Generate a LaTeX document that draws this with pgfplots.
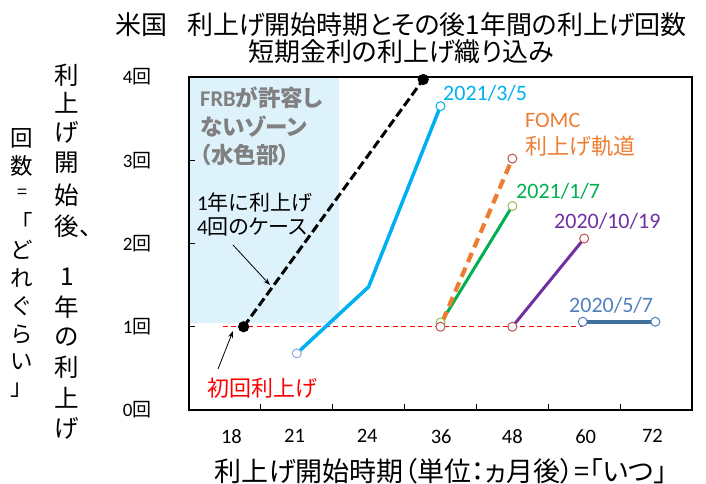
\documentclass[border=0pt]{standalone}
\usepackage{pgfplots}
\pgfplotsset{compat=1.18}
\usetikzlibrary{arrows.meta}
\usepackage{fontspec}
\setmainfont{Carlito}
\newfontfamily\jp[RawFeature=+palt]{Noto Sans CJK JP}
\newfontfamily\jpn{Noto Sans CJK JP}
\newcommand\J[1]{{\jp #1}}
\newcommand\fs[1]{\fontsize{#1bp}{#1bp}\selectfont}
\definecolor{cLB}{HTML}{00B0F0}
\definecolor{cOr}{HTML}{ED7D31}
\definecolor{cGr}{HTML}{00B050}
\definecolor{cPu}{HTML}{7030A0}
\definecolor{cSt}{HTML}{41719C}
\definecolor{cStT}{HTML}{4F81BD}
\definecolor{cZone}{HTML}{DEF2FB}
\definecolor{cMRed}{HTML}{C0504D}
\definecolor{cOlive}{HTML}{9BBB59}
\definecolor{cPale}{HTML}{8FAADC}
\definecolor{cGray}{HTML}{808080}
\begin{document}
\begin{tikzpicture}
\useasboundingbox (-189bp,-74bp) rectangle (517bp,410bp);
\begin{axis}[
  scale only axis, width=503bp, height=333bp,
  at={(0,0)}, anchor=south west,
  xmin=-0.5, xmax=6.5, ymin=0, ymax=4,
  xtick={0.09,0.97,1.98,3.01,4.0,5.02,5.95}, xticklabels={18,21,24,36,48,60,72},
  minor xtick={0.5,1.5,2.5,3.5,4.5,5.5},
  major x tick style={draw=none},
  ytick={0,1,2,3,4},
  yticklabels={{0\J{回}},{1\J{回}},{2\J{回}},{3\J{回}},{4\J{回}}},
  tick pos=left, tick align=inside,
  major tick length=6.5bp, minor tick length=6.5bp,
  axis line style={line width=1.2bp, black},
  every tick/.style={line width=1bp, black},
  minor x tick style={line width=1bp, black},
  xticklabel style={font=\fs{20.5}, yshift=-16bp},
  yticklabel style={font=\fs{19}, xshift=-34bp},
  axis on top, clip=false,
]
\addplot[draw=none, fill=cZone] coordinates {(-0.5,1.045) (1.587,1.045) (1.587,4) (-0.5,4)} -- cycle;
\addplot[red, line width=1.4bp, dash pattern=on 5bp off 3.5bp] coordinates {(-0.03,1) (4.98,1)};
\addplot[cLB, line width=3.5bp] coordinates {(1,0.68) (2,1.48) (3,3.65)};
\addplot[cGr, line width=3bp] coordinates {(3,1.04) (4,2.45)};
\addplot[cOr, line width=4.2bp, dash pattern=on 10bp off 6bp] coordinates {(3.03,1.07) (4,3.02)};
\addplot[cPu, line width=3bp] coordinates {(4,1) (5,2.06)};
\addplot[cSt, line width=3.5bp] coordinates {(4.98,1.06) (5.99,1.06)};
\addplot[black, line width=3bp, dash pattern=on 9bp off 4bp, mark=*, mark size=4bp, mark options={solid}] coordinates {(0.26,1) (2.76,3.97)};
\addplot[only marks, mark=*, mark size=4.5bp, mark options={fill=white, draw=cPale, line width=1bp}] coordinates {(1,0.68)};
\addplot[only marks, mark=*, mark size=4.5bp, mark options={fill=white, draw=cLB, line width=1bp}] coordinates {(3,3.65)};
\addplot[only marks, mark=*, mark size=4.5bp, mark options={fill=white, draw=cOlive, line width=1bp}] coordinates {(3,1.05) (4,2.45)};
\addplot[only marks, mark=*, mark size=4.5bp, mark options={fill=white, draw=cMRed, line width=1bp}] coordinates {(3,1) (4,1) (4,3.02) (5,2.06)};
\addplot[only marks, mark=*, mark size=4.5bp, mark options={fill=white, draw=cStT, line width=1bp}] coordinates {(4.98,1.06) (5.99,1.06)};
\end{axis}
% arrows
\draw[-{Stealth[length=7bp,width=5bp]}, line width=0.8bp] (44bp,165bp) -- (81bp,125bp);
\draw[-{Stealth[length=7bp,width=5bp]}, line width=0.8bp] (29bp,41bp) -- (44bp,79bp);
% annotations
\begin{scope}[every node/.style={anchor=west, inner sep=0pt}]
\node[text=cLB, font=\fs{22}] at (254bp,317bp) {2021/3/5};
\node[text=cOr, font=\fs{22}] at (336bp,290bp) {FOMC};
\node[text=cOr, font=\fs{22}] at (336bp,264bp) {\J{利上げ軌道}};
\node[text=cGr, font=\fs{22}] at (327bp,219bp) {2021/1/7};
\node[text=cPu, font=\fs{22}] at (365bp,189bp) {2020/10/19};
\node[text=cStT, font=\fs{22}] at (380bp,105bp) {2020/5/7};
\node[text=red, font=\fs{22}] at (18bp,22bp) {\J{初回利上げ}};
\node[text=black, font=\fs{21}] at (8bp,208bp) {1\J{年に利上げ}};
\node[text=black, font=\fs{21}] at (8bp,183bp) {4\J{回のケース}};
\node[text=cGray, font=\fs{22.5}\bfseries] at (11bp,312bp) {FRB\J{が許容し}};
\node[text=cGray, font=\fs{22.5}\bfseries] at (11bp,283bp) {\J{ないゾーン}};
\node[text=cGray, font=\fs{22.5}\bfseries] at (11bp,255bp) {\J{（水色部）}};
\end{scope}
% titles
\node[inner sep=0pt, font=\jp\fs{26}] at (212bp,385bp) {米国\hspace{20bp}利上げ開始時期とその後1年間の利上げ回数};
\node[inner sep=0pt, font=\jp\fs{26}] at (212bp,358bp) {短期金利の利上げ織り込み};
\node[inner sep=0pt, font=\jp\fs{27}] at (252bp,-61bp) {利上げ開始時期（単位：ヵ月後）=「いつ」};
% y label columns
\foreach \c/\y in {利/335, 上/307, げ/278, 開/247, 始/215, {後\rlap{、}}/184, 1/133, 年/103, の/73, 利/43, 上/12, げ/-18}
  \node[inner sep=0pt, font=\jpn\fs{24.5}] at (-122bp,\y bp) {\c};
\foreach \c/\y in {回/272, 数/244, {\fs{18}=}/216, 「/188, ど/160, れ/132, ぐ/104, ら/76, い/48, 」/20}
  \node[inner sep=0pt, font=\jpn\fs{22.5}] at (-167bp,\y bp) {\c};
\end{tikzpicture}
\end{document}
